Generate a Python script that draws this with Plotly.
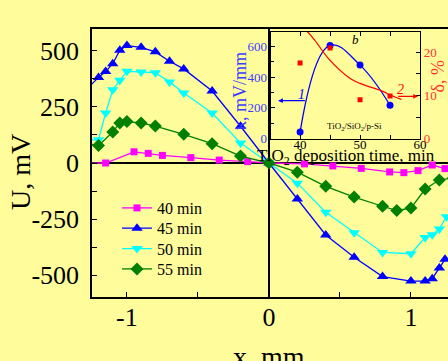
import plotly.graph_objects as go

# ---------------- data (main plot) ----------------
x40 = [-1.35, -1.15, -0.95, -0.85, -0.75, -0.55, -0.35, -0.15, 0, 0.25, 0.45, 0.65, 0.85, 0.95, 1.05, 1.15, 1.24]
u40 = [-2, 0, 50, 43, 34, 24, 13, 6, 0, -4, -13, -24, -40, -43, -34, -9, -25]

x45 = [-1.3, -1.2, -1.15, -1.1, -1.05, -1.0, -0.9, -0.8, -0.7, -0.6, -0.4, -0.2, 0, 0.2, 0.4, 0.6, 0.8, 1.0, 1.1, 1.15, 1.2, 1.24]
u45 = [320, 382, 408, 443, 503, 524, 516, 496, 454, 420, 321, 164, 0, -161, -321, -421, -507, -527, -527, -516, -469, -430]

x50 = [-1.3, -1.2, -1.15, -1.1, -1.05, -1.0, -0.9, -0.8, -0.7, -0.6, -0.4, -0.2, 0, 0.2, 0.4, 0.6, 0.8, 1.0, 1.1, 1.15, 1.2, 1.25]
u50 = [102, 104, 223, 327, 369, 409, 406, 403, 362, 312, 223, 89, 0, -90, -220, -311, -399, -405, -333, -320, -294, -240]

x55 = [-1.3, -1.2, -1.1, -1.05, -1.0, -0.9, -0.8, -0.6, -0.4, -0.2, 0, 0.2, 0.4, 0.6, 0.8, 0.9, 1.0, 1.1, 1.2, 1.3]
u55 = [88, 78, 138, 179, 185, 179, 165, 128, 86, 31, 0, -41, -104, -152, -193, -212, -201, -116, -76, -66]

series_names = ["40 min", "45 min", "50 min", "55 min"]

x_tickvals = [-1, 0, 1]
x_ticktext = ["-1", "0", "1"]
y_tickvals = [-500, -250, 0, 250, 500]
y_ticktext = ["-500", "-250", "0", "250", "500"]

# ---------------- data (inset) ----------------
t_k = [40, 45, 50, 55]
kappa = [43, 606, 478, 217]
t_d = [40, 45, 50, 55]
delta = [17.5, 21.0, 9.0, 9.9]
t_fit = [40.4, 42.4, 44.7, 48.3, 50, 53.9, 55, 56.9]
d_fit = [26.0, 22.9, 18.6, 14.0, 12.8, 10.9, 10.1, 9.1]

inset_x_ticks = [40, 50, 60]
kappa_ticks = [0, 200, 400, 600]
delta_ticks = [0, 10, 20]

# ---------------- style ----------------
BG = "#FFFC9C"
SERIF = "Liberation Serif"
W, H = 448, 361
ML, MR, MT, MB = 92, 0, 29, 64
PW, PH = W - ML - MR, H - MT - MB


def px(xp):
    return (xp - ML) / PW


def py(yp):
    return (H - MB - yp) / PH


fig = go.Figure()

specs = [
    (x40, u40, "#FF00FF", "square", 7),
    (x45, u45, "#0000FF", "triangle-up", 10),
    (x50, u50, "#00FFFF", "triangle-down", 10),
    (x55, u55, "#008000", "diamond", 10),
]
legend_ids = ["legend", "legend2", "legend3", "legend4"]
legend_rows = [208, 228.3, 248.7, 269]
for (xs, ys, col, sym, sz), name, lg in zip(specs, series_names, legend_ids):
    fig.add_trace(go.Scatter(
        x=xs, y=ys, mode="lines+markers", name=name,
        line=dict(color=col, width=1.3),
        marker=dict(symbol=sym, size=sz, color=col),
        xaxis="x", yaxis="y", legend=lg,
    ))

# inset traces
fig.add_trace(go.Scatter(
    x=t_k, y=kappa, mode="lines+markers", showlegend=False,
    line=dict(color="#0000FF", width=1.3, shape="spline", smoothing=1.2),
    marker=dict(symbol="circle", size=7, color="#0000FF"),
    xaxis="x2", yaxis="y2",
))
fig.add_trace(go.Scatter(
    x=t_fit, y=d_fit, mode="lines", showlegend=False,
    line=dict(color="#FF0000", width=1.2, shape="spline"),
    xaxis="x2", yaxis="y3",
))
fig.add_trace(go.Scatter(
    x=t_d, y=delta, mode="markers", showlegend=False,
    marker=dict(symbol="square", size=5, color="#FF0000"),
    xaxis="x2", yaxis="y3",
))

axis_common = dict(showline=True, linecolor="black", showgrid=False, ticks="inside",
                   tickcolor="black", automargin=False)

legend_layout = {}
for lg, row in zip(legend_ids, legend_rows):
    legend_layout[lg] = dict(
        x=px(117), y=py(row), xanchor="left", yanchor="middle",
        bgcolor="rgba(0,0,0,0)", font=dict(size=16, family=SERIF),
        borderwidth=0,
    )

fig.update_layout(
    width=W, height=H,
    margin=dict(l=ML, r=MR, t=MT, b=MB, autoexpand=False),
    paper_bgcolor=BG, plot_bgcolor=BG,
    font=dict(family=SERIF, color="black"),
    xaxis=dict(
        **axis_common, domain=[0, 1], anchor="y", range=[-1.246, 1.261],
        linewidth=1.5, mirror=True, ticklen=5, tickwidth=1.2,
        tickvals=x_tickvals, ticktext=x_ticktext,
        minor=dict(tickvals=[-0.5, 0.5], ticks="inside", ticklen=5, tickcolor="black", tickwidth=1.2),
        zeroline=True, zerolinecolor="black", zerolinewidth=1.5,
        tickfont=dict(size=26, family=SERIF), ticklabelstandoff=-4,
    ),
    yaxis=dict(
        **axis_common, domain=[0, 1], anchor="x", range=[-598, 598],
        linewidth=1.5, mirror=True, ticklen=5, tickwidth=1.2,
        tickvals=y_tickvals, ticktext=y_ticktext,
        minor=dict(tickvals=[-375, -125, 125, 375], ticks="inside", ticklen=5, tickcolor="black", tickwidth=1.2),
        zeroline=True, zerolinecolor="black", zerolinewidth=1.5,
        tickfont=dict(size=26, family=SERIF), ticklabelstandoff=6,
    ),
    xaxis2=dict(
        **axis_common, domain=[px(270.7), px(420)], anchor="y2", range=[35.1, 60],
        linewidth=1.2, mirror="allticks", ticklen=4, tickwidth=1,
        tickvals=inset_x_ticks,
        minor=dict(tickvals=[45, 55], ticks="inside", ticklen=4, tickcolor="black"),
        zeroline=False, tickfont=dict(size=13, family=SERIF), ticklabelstandoff=-6,
    ),
    yaxis2=dict(
        **axis_common, domain=[py(138.7), py(31.7)], anchor="x2", range=[0, 695],
        linewidth=1.2, ticklen=4, tickwidth=1,
        tickvals=kappa_ticks,
        minor=dict(dtick=100, ticks="inside", ticklen=3, tickcolor="black"),
        zeroline=False, tickfont=dict(size=13, family=SERIF, color="#3C3CFF"),
    ),
    yaxis3=dict(
        **axis_common, overlaying="y2", side="right", anchor="x2", range=[0, 24.77],
        linewidth=1.2, ticklen=4, tickwidth=1,
        tickvals=delta_ticks,
        minor=dict(tickvals=[5, 15], ticks="inside", ticklen=4, tickcolor="black"),
        zeroline=False, tickfont=dict(size=13, family=SERIF, color="#FF3030"),
    ),
    showlegend=True,
    **legend_layout,
)

ann = []
# main axis titles
ann.append(dict(text="U, mV", x=px(21), y=py(172), xref="paper", yref="paper",
                showarrow=False, textangle=-90, font=dict(size=28, family=SERIF),
                xanchor="center", yanchor="middle"))
ann.append(dict(text="x, mm", x=px(269), y=py(356), xref="paper", yref="paper",
                showarrow=False, font=dict(size=28, family=SERIF),
                xanchor="center", yanchor="middle"))
# inset titles
ann.append(dict(text="TiO<sub>2</sub> deposition time, min", x=px(345.5), y=py(157),
                xref="paper", yref="paper", showarrow=False,
                font=dict(size=17, family=SERIF), xanchor="center", yanchor="middle"))
ann.append(dict(text="κ, mV/mm", x=px(240), y=py(91), xref="paper", yref="paper",
                showarrow=False, textangle=-90, font=dict(size=18, family=SERIF, color="#3C3CFF"),
                xanchor="center", yanchor="middle"))
ann.append(dict(text="δ, %", x=px(437.5), y=py(77), xref="paper", yref="paper",
                showarrow=False, textangle=-90, font=dict(size=18, family=SERIF, color="#FF3030"),
                xanchor="center", yanchor="middle"))
# inset labels
ann.append(dict(text="<i>b</i>", x=49.2, y=647, xref="x2", yref="y2", showarrow=False,
                font=dict(size=13, family=SERIF)))
ann.append(dict(text="TiO<sub>2</sub>/SiO<sub>2</sub>/p-Si", x=49.1, y=82, xref="x2", yref="y2",
                showarrow=False, font=dict(size=9, family=SERIF)))
ann.append(dict(text="<i>1</i>", x=40.2, y=290, xref="x2", yref="y2", showarrow=False,
                font=dict(size=14, family=SERIF, color="#0000FF")))
ann.append(dict(text="<i>2</i>", x=56.8, y=11.4, xref="x2", yref="y3", showarrow=False,
                font=dict(size=14, family=SERIF, color="#FF0000")))
# arrows
ann.append(dict(text="", x=36.33, y=247, ax=41.05, ay=247, xref="x2", yref="y2",
                axref="x2", ayref="y2", showarrow=True, arrowhead=2, arrowsize=0.8,
                arrowwidth=1.2, arrowcolor="#0000FF"))
ann.append(dict(text="", x=59.67, y=9.8, ax=56.12, ay=9.8, xref="x2", yref="y3",
                axref="x2", ayref="y3", showarrow=True, arrowhead=2, arrowsize=0.8,
                arrowwidth=1.2, arrowcolor="#FF0000"))
fig.update_layout(annotations=ann)

fig.write_html("out.html", config={"displayModeBar": False},
               post_script="document.body.style.margin='0';")
